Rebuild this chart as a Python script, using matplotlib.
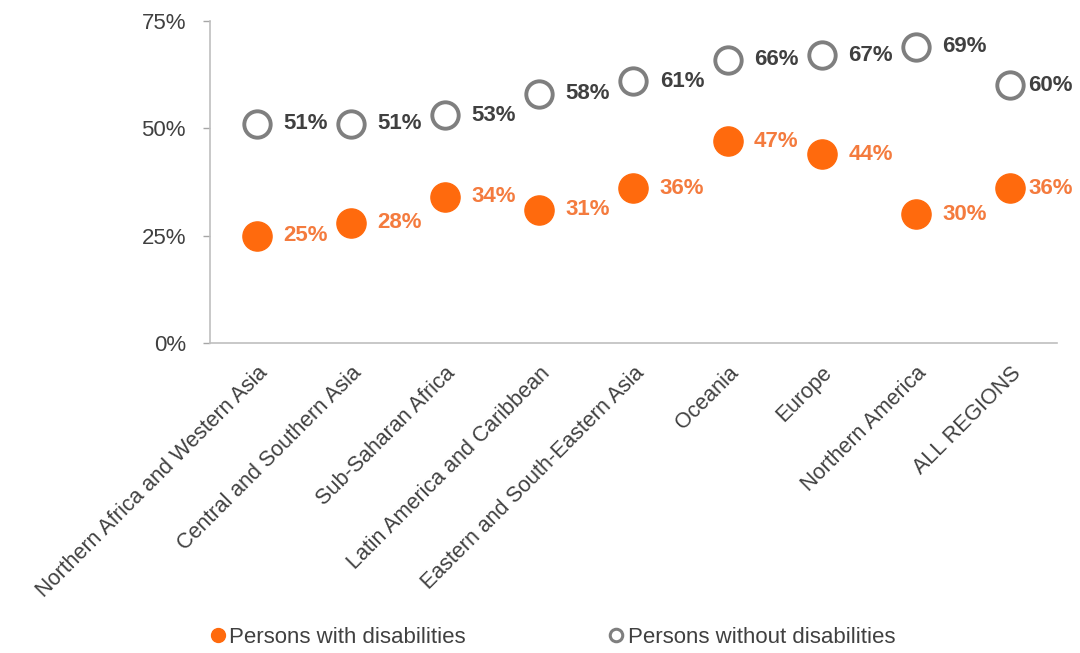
import numpy as np
import matplotlib
matplotlib.use("Agg")
import matplotlib.pyplot as plt
from matplotlib.ticker import FuncFormatter
from matplotlib.lines import Line2D

plt.rcParams["font.family"] = ["Liberation Sans", "DejaVu Sans"]

regions = [
    "Northern Africa and Western Asia",
    "Central and Southern Asia",
    "Sub-Saharan Africa",
    "Latin America and Caribbean",
    "Eastern and South-Eastern Asia",
    "Oceania",
    "Europe",
    "Northern America",
    "ALL REGIONS",
]
with_disab = [25, 28, 34, 31, 36, 47, 44, 30, 36]
without_disab = [51, 51, 53, 58, 61, 66, 67, 69, 60]
y_ticks = [0, 25, 50, 75]

ORANGE = "#FF6A0D"
ORANGE_TXT = "#F47B3E"
GREY = "#7F7F7F"
DARK = "#404040"

fig = plt.figure(figsize=(10.8, 6.53), dpi=100)
ax = fig.add_axes([0.194, 0.4747, 0.785, 0.4933])

x = np.arange(len(regions))

ax.plot(x, without_disab, linestyle="none", marker="o", markersize=19,
        markerfacecolor="white", markeredgecolor=GREY, markeredgewidth=2.8,
        label="Persons without disabilities", zorder=3, clip_on=False)
ax.plot(x, with_disab, linestyle="none", marker="o", markersize=21,
        markerfacecolor=ORANGE, markeredgecolor=ORANGE,
        label="Persons with disabilities", zorder=3, clip_on=False)

# value labels, the last column sits a little tighter
for i, (xi, v) in enumerate(zip(x, without_disab)):
    dx = 13 if i == len(x) - 1 else 19
    ax.annotate(f"{v}%", (xi, v), xytext=(dx, 0), textcoords="offset points",
                ha="left", va="center", fontsize=16, fontweight="bold", color=DARK)
for i, (xi, v) in enumerate(zip(x, with_disab)):
    dx = 13 if i == len(x) - 1 else 19
    ax.annotate(f"{v}%", (xi, v), xytext=(dx, 0), textcoords="offset points",
                ha="left", va="center", fontsize=16, fontweight="bold", color=ORANGE_TXT)

ax.set_xlim(-0.5, len(regions) - 0.5)
ax.set_ylim(0, 75)
ax.set_yticks(y_ticks)
ax.yaxis.set_major_formatter(FuncFormatter(lambda v, p: f"{v:.0f}%"))
ax.tick_params(axis="y", colors="#A6A6A6", labelcolor=DARK, labelsize=16,
               length=5, width=1, pad=12)

ax.set_xticks(x)
ax.set_xticklabels(regions, rotation=45, ha="right", rotation_mode="anchor",
                   fontsize=15.5, color=DARK)
ax.tick_params(axis="x", length=0, pad=14)

for side in ["top", "right"]:
    ax.spines[side].set_visible(False)
for side in ["left", "bottom"]:
    ax.spines[side].set_color("#BFBFBF")
    ax.spines[side].set_linewidth(1.2)

# legend at the bottom
handles = [
    Line2D([], [], linestyle="none", marker="o", markersize=10,
           markerfacecolor=ORANGE, markeredgecolor=ORANGE),
    Line2D([], [], linestyle="none", marker="o", markersize=9,
           markerfacecolor="white", markeredgecolor=GREY, markeredgewidth=2.2),
]
fig.legend(handles, ["Persons with disabilities", "Persons without disabilities"],
           loc="center", bbox_to_anchor=(0.51, 0.024), ncol=2, frameon=False,
           fontsize=16, handletextpad=0.0, columnspacing=6.3, handlelength=1.0,
           labelcolor=DARK)

fig.savefig("out.png", dpi=100, facecolor="white")
